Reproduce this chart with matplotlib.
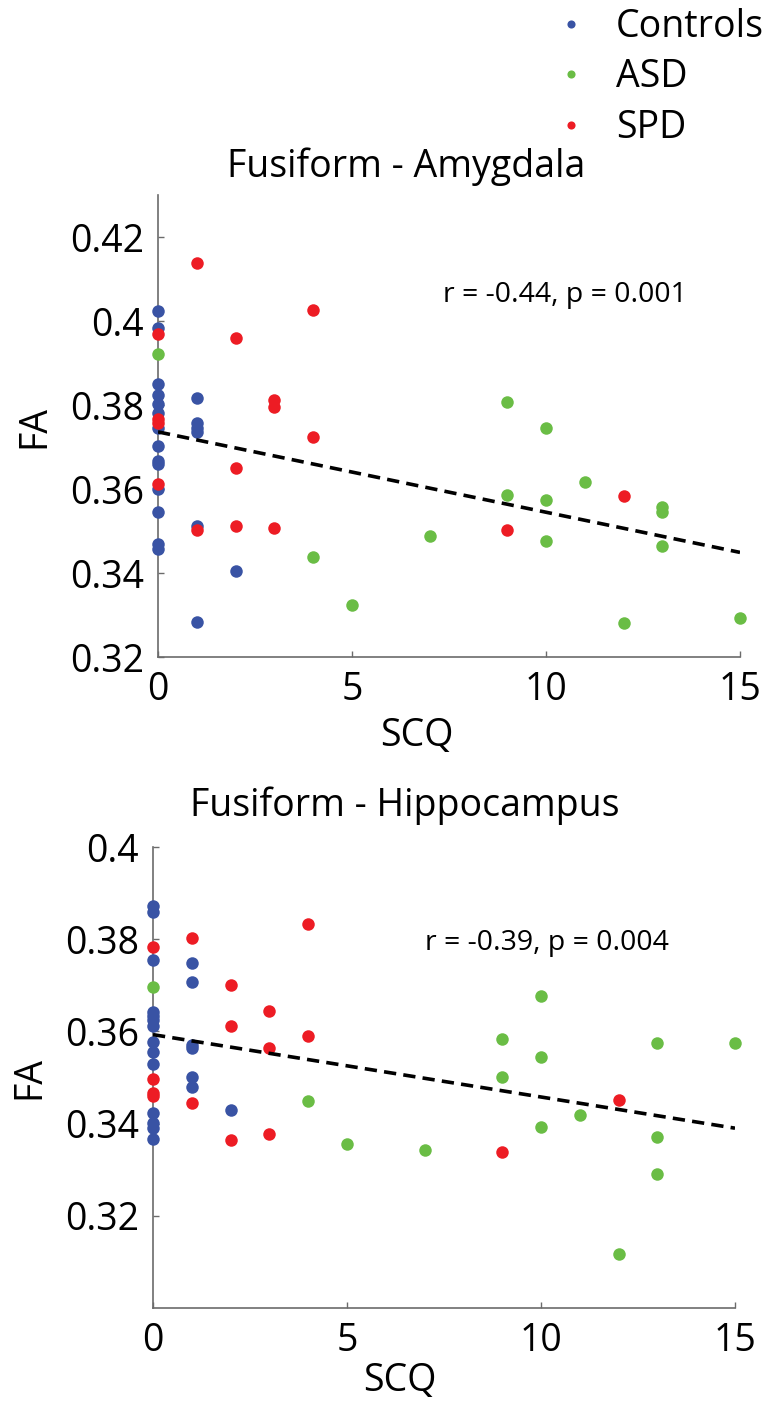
import matplotlib

matplotlib.use("Agg")
import matplotlib.pyplot as plt
import numpy as np

plt.rcParams["font.family"] = ["Open Sans", "DejaVu Sans"]

# ---- data ----
groups = ["Controls", "ASD", "SPD"]
colors = {"Controls": "#3953A4", "ASD": "#6ABD45", "SPD": "#ED1C24"}

# Fusiform - Amygdala
amy_ctrl_scq = [0] * 14 + [1] * 6 + [2]
amy_ctrl_fa = [0.4025, 0.3983, 0.3851, 0.3825, 0.3803, 0.3781, 0.3746, 0.3702,
               0.3667, 0.3660, 0.3601, 0.3545, 0.3470, 0.3458,
               0.3817, 0.3756, 0.3746, 0.3736, 0.3511, 0.3283,
               0.3405]
amy_asd_scq = [0, 4, 5, 7, 9, 9, 10, 10, 10, 11, 12, 13, 13, 13, 15]
amy_asd_fa = [0.3922, 0.3438, 0.3323, 0.3487, 0.3807, 0.3585, 0.3746, 0.3575,
              0.3476, 0.3616, 0.3281, 0.3557, 0.3545, 0.3464, 0.3294]
amy_spd_scq = [0, 0, 0, 0, 1, 1, 2, 2, 2, 3, 3, 3, 4, 4, 9, 12]
amy_spd_fa = [0.3968, 0.3766, 0.3757, 0.3613, 0.4137, 0.3502, 0.3960, 0.3649,
              0.3511, 0.3813, 0.3795, 0.3506, 0.4027, 0.3725, 0.3502, 0.3584]
amy_fit = (0.3736, -0.001913)  # intercept, slope

# Fusiform - Hippocampus
hip_ctrl_scq = [0] * 14 + [1] * 6 + [2]
hip_ctrl_fa = [0.3872, 0.3859, 0.3754, 0.3643, 0.3634, 0.3625, 0.3611, 0.3578,
               0.3555, 0.3530, 0.3422, 0.3402, 0.3391, 0.3367,
               0.3748, 0.3707, 0.3571, 0.3563, 0.3501, 0.3480,
               0.3429]
hip_asd_scq = [0, 4, 5, 7, 9, 9, 10, 10, 10, 11, 12, 13, 13, 13, 15]
hip_asd_fa = [0.3697, 0.3448, 0.3356, 0.3343, 0.3584, 0.3501, 0.3677, 0.3545,
              0.3392, 0.3418, 0.3117, 0.3575, 0.3372, 0.3290, 0.3575]
hip_spd_scq = [0, 0, 0, 0, 1, 1, 2, 2, 2, 3, 3, 3, 4, 4, 9, 12]
hip_spd_fa = [0.3782, 0.3497, 0.3467, 0.3460, 0.3802, 0.3444, 0.3701, 0.3611,
              0.3365, 0.3645, 0.3563, 0.3377, 0.3834, 0.3589, 0.3338, 0.3451]
hip_fit = (0.3593, -0.001353)

xticks = [0, 5, 10, 15]
amy_yticks = [0.32, 0.34, 0.36, 0.38, 0.40, 0.42]
amy_yticklabels = ["0.32", "0.34", "0.36", "0.38", "0.4", "0.42"]
hip_yticks = [0.32, 0.34, 0.36, 0.38, 0.40]
hip_yticklabels = ["0.32", "0.34", "0.36", "0.38", "0.4"]

W, H = 762, 1402
fig = plt.figure(figsize=(W / 100, H / 100), dpi=100)

FS = 27
GREY = "#6b6b6b"


def px(x0, y0, x1, y1):
    """axes rect from pixel box (left, top, right, bottom)"""
    return [x0 / W, 1 - y1 / H, (x1 - x0) / W, (y1 - y0) / H]


def panel(ax, series, fit, ylim, yticks, yticklabels, note, note_xy, xlab_xy):
    handles = []
    for name, xs, ys in series:
        (h,) = ax.plot(xs, ys, "o", color=colors[name], markersize=9,
                       markeredgewidth=0, clip_on=False, zorder=3, label=name)
        handles.append(h)
    xx = np.array([0, 15])
    ax.plot(xx, fit[0] + fit[1] * xx, color="black", lw=2.6,
            linestyle=(0, (3.4, 2.0)), zorder=4)
    ax.set_xlim(0, 15)
    ax.set_ylim(*ylim)
    ax.set_xticks(xticks)
    ax.set_yticks(yticks)
    ax.set_yticklabels(yticklabels)
    for s in ("top", "right"):
        ax.spines[s].set_visible(False)
    for s in ("left", "bottom"):
        ax.spines[s].set_color(GREY)
        ax.spines[s].set_linewidth(1.2)
    ax.tick_params(direction="in", length=4, width=1, color=GREY,
                   labelsize=FS, pad=10)
    ax.set_xlabel("SCQ", fontsize=FS)
    ax.set_ylabel("FA", fontsize=FS)
    ax.xaxis.set_label_coords(*xlab_xy)
    ax.yaxis.set_label_coords(-0.18, 0.5)
    ax.text(note_xy[0], note_xy[1], note, transform=ax.transAxes,
            fontsize=20.5, va="center", ha="left")
    return handles


ax1 = fig.add_axes(px(158, 195, 740, 657))
handles = panel(ax1,
                [("Controls", amy_ctrl_scq, amy_ctrl_fa),
                 ("ASD", amy_asd_scq, amy_asd_fa),
                 ("SPD", amy_spd_scq, amy_spd_fa)],
                amy_fit, (0.32, 0.43), amy_yticks, amy_yticklabels,
                "r = -0.44, p = 0.001", ((443 - 158) / 582, 1 - (295 - 195) / 462),
                ((417 - 158) / 582, -0.13))
fig.text(406 / W, 1 - 167 / H, "Fusiform - Amygdala", fontsize=FS,
         ha="center", va="center")

ax2 = fig.add_axes(px(153, 847, 735, 1308))
panel(ax2,
      [("Controls", hip_ctrl_scq, hip_ctrl_fa),
       ("ASD", hip_asd_scq, hip_asd_fa),
       ("SPD", hip_spd_scq, hip_spd_fa)],
      hip_fit, (0.30, 0.40), hip_yticks, hip_yticklabels,
      "r = -0.39, p = 0.004", ((425 - 153) / 582, 1 - (943 - 847) / 461),
      ((400 - 153) / 582, -0.118))
fig.text(405 / W, 1 - 806 / H, "Fusiform - Hippocampus", fontsize=FS,
         ha="center", va="center")

fig.legend(handles, groups, loc="upper left", bbox_to_anchor=(560 / W, 1 - 8 / H),
           frameon=False, fontsize=FS, markerscale=0.65, handlelength=0.6,
           handletextpad=0.9, labelspacing=0.33, borderpad=0, borderaxespad=0)

fig.savefig("out.png", dpi=100)
